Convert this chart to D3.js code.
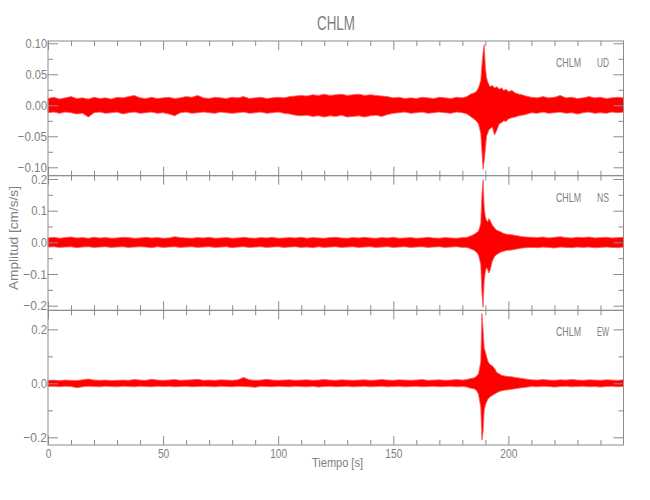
<!DOCTYPE html>
<html><head><meta charset="utf-8">
<script src="https://cdn.jsdelivr.net/npm/d3@7"></script>
<style>
html,body{margin:0;padding:0;background:#fff;}
svg{display:block;}
text{font-family:"Liberation Sans",Arial,sans-serif;fill:#808080;}
</style></head>
<body><svg id="c" width="650" height="500"></svg>
<script>
// ---------------- DATA ----------------
const title = "CHLM";
const station = "CHLM";
const components = ["UD", "NS", "EW"];
const xLabel = "Tiempo [s]";
const yLabel = "Amplitud [cm/s/s]";
const xDomain = [0, 250];
const xMajorTicks = [0, 50, 100, 150, 200];
const xMinorTicks = [10,20,30,40,60,70,80,90,110,120,130,140,160,170,180,190,210,220,230,240];
const yDomains = [[-0.1135, 0.1037], [-0.2146, 0.2105], [-0.2285, 0.2704]];
const yMajorTicks = [[-0.10,-0.05,0.00,0.05,0.10], [-0.2,-0.1,0.0,0.1,0.2], [-0.2,0.0,0.2]];
const yMinorTicks = [[-0.075,-0.025,0.025,0.075], [-0.15,-0.05,0.05,0.15], [-0.1,0.1]];
const yTickFormats = [".2f", ".1f", ".1f"];

// time of each envelope sample (s)
const times = [
  0,2.5,5,7.5,10,12.5,15,17.5,20,22.5,
  25,27.5,30,32.5,35,37.5,40,42.5,45,47.5,
  50,52.5,55,57.5,60,62.5,65,67.5,70,72.5,
  75,77.5,80,82.5,85,87.5,90,92.5,95,97.5,
  100,102.5,105,107.5,110,112.5,115,117.5,120,122.5,
  125,127.5,130,132.5,135,137.5,140,142.5,145,147.5,
  150,152.5,155,157.5,160,162.5,165,167.5,170,172.5,
  175,177.5,180,
  182,183.5,185,186,187,188,188.5,189,189.5,190,
  190.5,191,191.5,192,193,194,195,196,197,198,
  199,200,201.5,203,204.5,206,207.5,
  210,212.5,215,217.5,220,222.5,225,227.5,230,232.5,
  235,237.5,240,242.5,245,247.5,250
];

// UD envelope (upper / lower), cm/s/s
const udHigh = [
  0.011,0.013,0.010,0.012,0.014,0.011,0.012,0.010,0.013,0.011,
  0.012,0.010,0.013,0.012,0.014,0.016,0.012,0.011,0.013,0.011,
  0.012,0.013,0.011,0.012,0.014,0.013,0.016,0.012,0.011,0.013,
  0.012,0.011,0.013,0.012,0.014,0.011,0.012,0.013,0.011,0.012,
  0.013,0.012,0.014,0.015,0.016,0.015,0.017,0.016,0.018,0.016,
  0.017,0.018,0.016,0.017,0.018,0.016,0.017,0.016,0.015,0.014,
  0.012,0.013,0.011,0.012,0.011,0.013,0.012,0.011,0.013,0.012,
  0.011,0.013,0.012,
  0.014,0.018,0.020,0.022,0.028,0.040,0.065,0.085,0.098,0.060,
  0.045,0.038,0.034,0.030,0.032,0.028,0.030,0.026,0.028,0.024,
  0.026,0.022,0.024,0.020,0.018,0.017,0.015,
  0.013,0.012,0.014,0.012,0.013,0.016,0.012,0.013,0.011,0.012,
  0.014,0.012,0.013,0.011,0.012,0.013,0.012
];
const udLow = [
  -0.012,-0.011,-0.013,-0.011,-0.012,-0.014,-0.013,-0.019,-0.012,-0.011,
  -0.013,-0.012,-0.011,-0.014,-0.012,-0.011,-0.013,-0.012,-0.011,-0.013,
  -0.012,-0.014,-0.017,-0.012,-0.011,-0.013,-0.012,-0.011,-0.012,-0.013,
  -0.011,-0.012,-0.013,-0.012,-0.011,-0.013,-0.012,-0.011,-0.013,-0.012,
  -0.011,-0.013,-0.014,-0.016,-0.017,-0.016,-0.018,-0.017,-0.019,-0.017,
  -0.018,-0.016,-0.019,-0.018,-0.017,-0.019,-0.017,-0.016,-0.018,-0.015,
  -0.013,-0.012,-0.011,-0.013,-0.012,-0.011,-0.013,-0.012,-0.011,-0.012,
  -0.013,-0.011,-0.012,
  -0.014,-0.018,-0.022,-0.025,-0.030,-0.045,-0.075,-0.103,-0.090,-0.070,
  -0.050,-0.045,-0.040,-0.038,-0.035,-0.048,-0.040,-0.030,-0.028,-0.025,
  -0.026,-0.022,-0.020,-0.019,-0.017,-0.016,-0.015,
  -0.012,-0.013,-0.011,-0.013,-0.012,-0.011,-0.013,-0.012,-0.014,-0.012,
  -0.011,-0.013,-0.012,-0.013,-0.011,-0.012,-0.011
];

// NS envelope
const nsHigh = [
  0.014,0.016,0.013,0.015,0.017,0.014,0.015,0.013,0.016,0.014,
  0.015,0.013,0.014,0.016,0.015,0.013,0.014,0.016,0.014,0.015,
  0.013,0.014,0.018,0.015,0.014,0.013,0.015,0.014,0.016,0.013,
  0.014,0.015,0.013,0.014,0.016,0.014,0.013,0.015,0.014,0.016,
  0.013,0.014,0.015,0.014,0.016,0.013,0.015,0.014,0.013,0.015,
  0.016,0.014,0.013,0.015,0.014,0.016,0.014,0.013,0.015,0.014,
  0.016,0.013,0.014,0.015,0.013,0.014,0.016,0.014,0.013,0.015,
  0.014,0.013,0.015,
  0.016,0.020,0.025,0.030,0.035,0.060,0.150,0.198,0.110,0.080,
  0.070,0.065,0.075,0.070,0.055,0.045,0.038,0.035,0.032,0.028,
  0.026,0.025,0.024,0.022,0.020,0.018,0.017,
  0.016,0.015,0.017,0.014,0.016,0.018,0.015,0.014,0.016,0.015,
  0.017,0.014,0.015,0.016,0.014,0.015,0.016
];
const nsLow = [
  -0.015,-0.014,-0.016,-0.015,-0.014,-0.017,-0.015,-0.014,-0.016,-0.015,
  -0.014,-0.016,-0.015,-0.014,-0.016,-0.015,-0.014,-0.015,-0.017,-0.014,
  -0.016,-0.015,-0.014,-0.016,-0.015,-0.014,-0.016,-0.015,-0.014,-0.016,
  -0.015,-0.014,-0.017,-0.015,-0.014,-0.016,-0.015,-0.014,-0.016,-0.015,
  -0.014,-0.016,-0.015,-0.014,-0.016,-0.015,-0.017,-0.014,-0.016,-0.015,
  -0.014,-0.016,-0.015,-0.014,-0.016,-0.015,-0.014,-0.016,-0.015,-0.014,
  -0.016,-0.015,-0.014,-0.016,-0.015,-0.014,-0.016,-0.015,-0.014,-0.016,
  -0.015,-0.014,-0.016,
  -0.016,-0.020,-0.025,-0.030,-0.040,-0.070,-0.160,-0.205,-0.120,-0.092,
  -0.080,-0.085,-0.097,-0.090,-0.060,-0.045,-0.038,-0.034,-0.030,-0.028,
  -0.026,-0.025,-0.024,-0.022,-0.020,-0.018,-0.017,
  -0.016,-0.017,-0.015,-0.016,-0.018,-0.015,-0.016,-0.017,-0.015,-0.016,
  -0.015,-0.017,-0.016,-0.015,-0.016,-0.017,-0.015
];

// EW envelope
const ewHigh = [
  0.011,0.012,0.010,0.012,0.011,0.010,0.013,0.016,0.012,0.011,
  0.012,0.010,0.011,0.012,0.011,0.014,0.012,0.011,0.015,0.012,
  0.011,0.012,0.014,0.011,0.012,0.013,0.015,0.011,0.012,0.011,
  0.013,0.012,0.011,0.013,0.022,0.013,0.011,0.012,0.015,0.012,
  0.011,0.012,0.013,0.011,0.012,0.013,0.011,0.012,0.014,0.012,
  0.011,0.013,0.012,0.011,0.012,0.013,0.011,0.012,0.014,0.012,
  0.011,0.013,0.012,0.011,0.012,0.014,0.011,0.012,0.013,0.011,
  0.012,0.014,0.012,
  0.014,0.018,0.020,0.025,0.035,0.080,0.259,0.200,0.130,0.117,
  0.100,0.085,0.075,0.070,0.065,0.055,0.040,0.035,0.030,0.028,
  0.026,0.025,0.024,0.022,0.020,0.018,0.016,
  0.013,0.012,0.014,0.012,0.011,0.013,0.012,0.014,0.012,0.011,
  0.013,0.012,0.011,0.013,0.012,0.011,0.013
];
const ewLow = [
  -0.012,-0.011,-0.013,-0.011,-0.012,-0.016,-0.013,-0.011,-0.012,-0.013,
  -0.011,-0.012,-0.013,-0.011,-0.012,-0.013,-0.011,-0.012,-0.013,-0.011,
  -0.012,-0.011,-0.013,-0.012,-0.011,-0.013,-0.012,-0.011,-0.012,-0.013,
  -0.011,-0.012,-0.013,-0.011,-0.012,-0.013,-0.015,-0.011,-0.012,-0.013,
  -0.011,-0.012,-0.013,-0.011,-0.012,-0.013,-0.011,-0.014,-0.012,-0.011,
  -0.013,-0.012,-0.011,-0.013,-0.012,-0.011,-0.013,-0.012,-0.011,-0.013,
  -0.012,-0.011,-0.013,-0.012,-0.011,-0.013,-0.012,-0.011,-0.013,-0.012,
  -0.011,-0.013,-0.012,
  -0.014,-0.018,-0.020,-0.025,-0.040,-0.090,-0.210,-0.180,-0.100,-0.080,
  -0.070,-0.060,-0.055,-0.050,-0.045,-0.040,-0.035,-0.030,-0.028,-0.026,
  -0.025,-0.024,-0.022,-0.020,-0.018,-0.016,-0.015,
  -0.012,-0.013,-0.011,-0.012,-0.014,-0.012,-0.011,-0.013,-0.012,-0.011,
  -0.013,-0.012,-0.014,-0.012,-0.011,-0.013,-0.012
];

// ---------------- DRAW ----------------
const highs = [udHigh, nsHigh, ewHigh];
const lows = [udLow, nsLow, ewLow];

const svg = d3.select("#c");
const mLeft = 48, mRight = 623.5, mTop = 41, mBottom = 445;
const ph = (mBottom - mTop) / 3;
const axisCol = "#8c8c8c";
const textCol = "#808080";

const x = d3.scaleLinear().domain(xDomain).range([mLeft, mRight]);

// narrow, vector-font-like widths for numeric labels
function numWidth(s) {
  let w = 0;
  for (const ch of s) w += (ch === ".") ? 4.3 : (ch === "\u2212" || ch === "-") ? 8 : 5.7;
  return w;
}
function narrow(sel, w) {
  sel.attr("textLength", w).attr("lengthAdjust", "spacingAndGlyphs");
}
function styleAxis(g) {
  g.select(".domain").remove();
  g.selectAll(".tick line").attr("stroke", axisCol).attr("stroke-width", 1);
  g.selectAll(".tick text").attr("fill", textCol).style("font-size", "13px")
    .style("font-family", '"Liberation Sans",Arial,sans-serif')
    .each(function() {
      const s = this.textContent;
      if (s) d3.select(this).call(narrow, numWidth(s));
    });
}

components.forEach((comp, i) => {
  const y0 = mTop + i * ph, y1 = mTop + (i + 1) * ph;
  const y = d3.scaleLinear().domain(yDomains[i]).range([y1, y0]);
  const g = svg.append("g");

  const n = Math.min(times.length, highs[i].length, lows[i].length);
  const rows = d3.range(n).map(k => ({t: times[k], hi: highs[i][k], lo: lows[i][k]}));

  const area = d3.area().x(d => x(d.t)).y0(d => y(d.lo)).y1(d => y(d.hi));
  g.append("path").datum(rows).attr("d", area)
    .attr("fill", "#ff0000").attr("stroke", "#ff5a5a").attr("stroke-width", 0.8)
    .attr("stroke-linejoin", "miter");

  const fmt = d3.format(yTickFormats[i]);
  g.append("g").attr("transform", `translate(${mLeft},0)`)
    .call(d3.axisLeft(y).tickValues(yMajorTicks[i]).tickSize(-10).tickPadding(1).tickFormat(fmt))
    .call(styleAxis);
  g.append("g").attr("transform", `translate(${mLeft},0)`)
    .call(d3.axisLeft(y).tickValues(yMinorTicks[i]).tickSize(-5).tickFormat(""))
    .call(styleAxis);
  g.append("g").attr("transform", `translate(${mRight},0)`)
    .call(d3.axisRight(y).tickValues(yMajorTicks[i]).tickSize(-10).tickFormat(""))
    .call(styleAxis);
  g.append("g").attr("transform", `translate(${mRight},0)`)
    .call(d3.axisRight(y).tickValues(yMinorTicks[i]).tickSize(-5).tickFormat(""))
    .call(styleAxis);

  const bottomAxis = d3.axisBottom(x).tickValues(xMajorTicks).tickSize(-9).tickPadding(4);
  if (i < 2) bottomAxis.tickFormat("");
  g.append("g").attr("transform", `translate(0,${y1})`).call(bottomAxis).call(styleAxis);
  g.append("g").attr("transform", `translate(0,${y1})`)
    .call(d3.axisBottom(x).tickValues(xMinorTicks).tickSize(-5).tickFormat("")).call(styleAxis);
  g.append("g").attr("transform", `translate(0,${y0})`)
    .call(d3.axisTop(x).tickValues(xMajorTicks).tickSize(-9).tickFormat("")).call(styleAxis);
  g.append("g").attr("transform", `translate(0,${y0})`)
    .call(d3.axisTop(x).tickValues(xMinorTicks).tickSize(-5).tickFormat("")).call(styleAxis);

  g.append("rect").attr("x", mLeft).attr("y", y0).attr("width", mRight - mLeft).attr("height", y1 - y0)
    .attr("fill", "none").attr("stroke", axisCol).attr("stroke-width", 1);

  const ly = y0 + 26;
  g.append("text").attr("x", 556).attr("y", ly)
    .style("font-size", "12px").attr("fill", "#707070").text(station).call(narrow, 25);
  g.append("text").attr("x", 609).attr("y", ly).attr("text-anchor", "end")
    .style("font-size", "12px").attr("fill", "#707070").text(comp).call(narrow, 12);
});

svg.append("text").attr("x", 336).attr("y", 30).attr("text-anchor", "middle")
  .style("font-size", "21px").attr("fill", textCol).text(title).call(narrow, 38);
svg.append("text").attr("x", 337.5).attr("y", 467).attr("text-anchor", "middle")
  .style("font-size", "13px").attr("fill", textCol).text(xLabel).call(narrow, 51);
svg.append("text").attr("transform", "translate(18,238) rotate(-90)").attr("text-anchor", "middle")
  .style("font-size", "13px").attr("fill", textCol).text(yLabel).call(narrow, 104);
</script>
</body></html>
